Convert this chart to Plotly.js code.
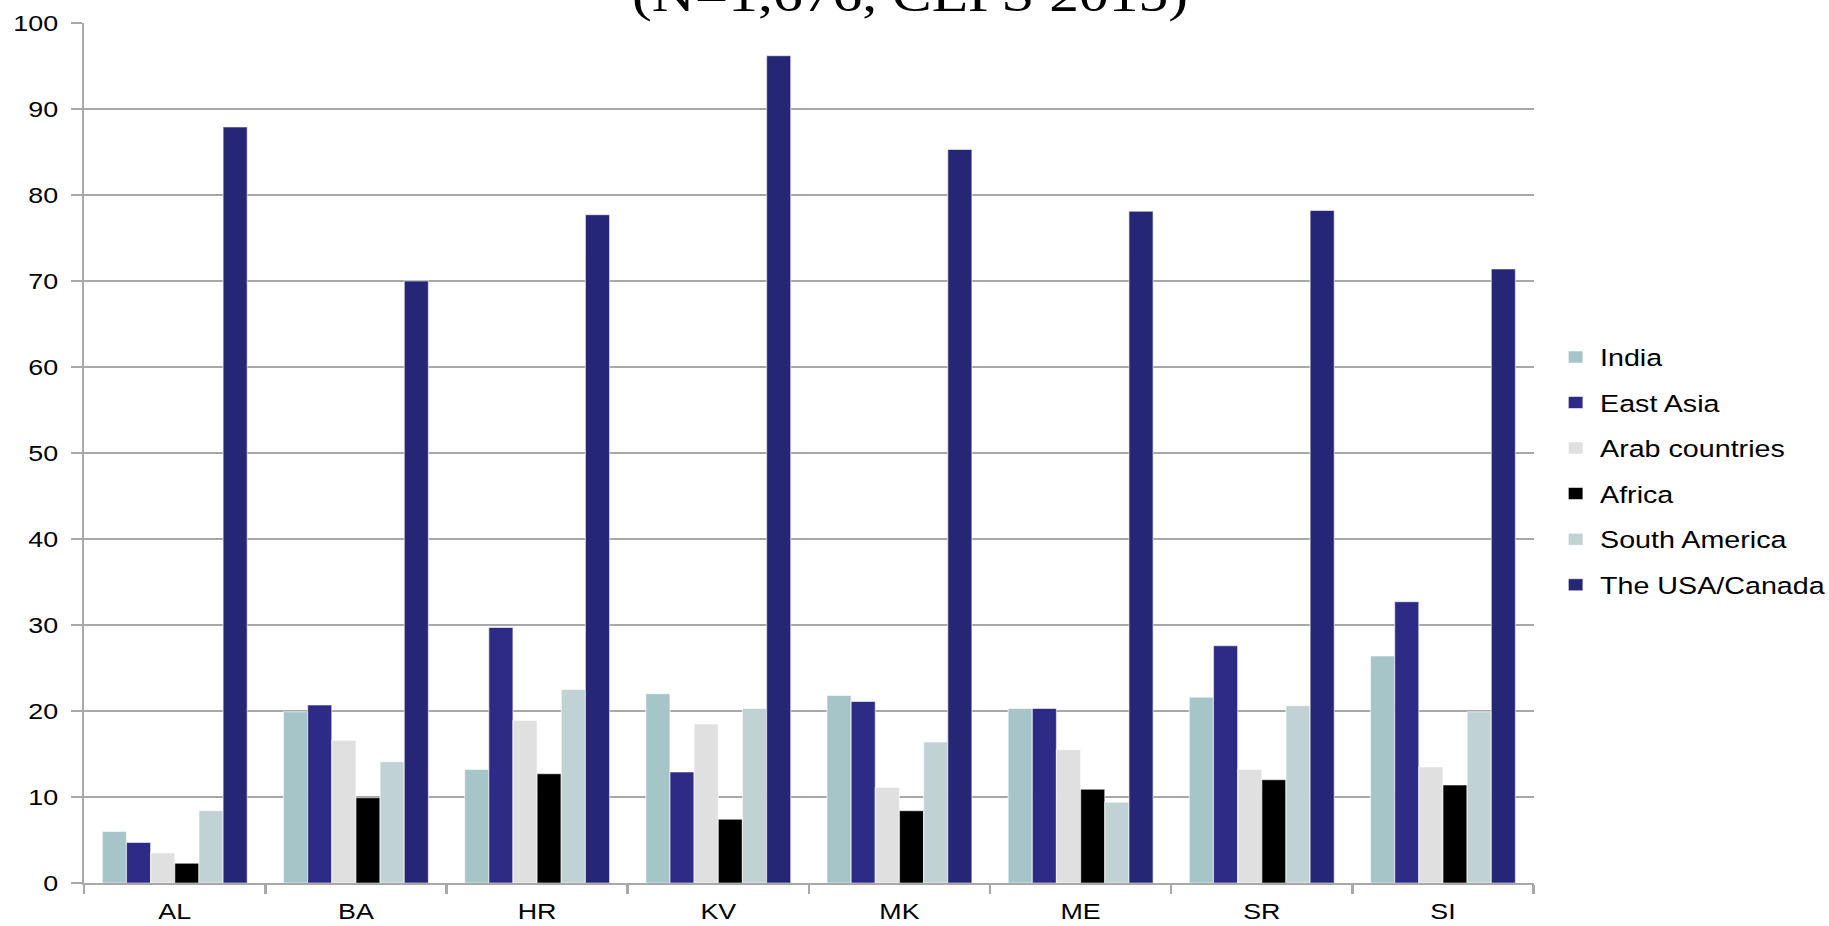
<!DOCTYPE html>
<html>
<head>
<meta charset="utf-8">
<script src="https://cdn.plot.ly/plotly-3.0.1.min.js"></script>
<style>
  html, body { margin: 0; padding: 0; overflow: hidden; background: #ffffff; }
  #wrap { width: 1829px; height: 926px; overflow: hidden; }
  #chart { width: 1520px; height: 926px; transform: scaleX(1.22); transform-origin: 0 0; }
</style>
</head>
<body>
<div id="wrap"><div id="chart"></div></div>
<script>
// Data
const categories = ['AL', 'BA', 'HR', 'KV', 'MK', 'ME', 'SR', 'SI'];
const seriesNames = ['India', 'East Asia', 'Arab countries', 'Africa', 'South America', 'The USA/Canada'];
const india        = [6.0, 19.9, 13.2, 22.0, 21.8, 20.3, 21.6, 26.4];
const eastAsia     = [4.7, 20.7, 29.7, 12.9, 21.1, 20.3, 27.6, 32.7];
const arab         = [3.5, 16.6, 18.9, 18.5, 11.1, 15.5, 13.2, 13.5];
const africa       = [2.3, 9.9, 12.7, 7.4, 8.4, 10.9, 12.0, 11.4];
const southAmerica = [8.4, 14.1, 22.5, 20.3, 16.4, 9.4, 20.6, 19.9];
const usaCanada    = [87.9, 70.0, 77.7, 96.2, 85.3, 78.1, 78.2, 71.4];
const yTicks = [0, 10, 20, 30, 40, 50, 60, 70, 80, 90, 100];
const titleText = '(N=1,676, CEPS 2015)';

const seriesValues = [india, eastAsia, arab, africa, southAmerica, usaCanada];
const colors = ['#A6C5C8', '#2D2B86', '#E0E0E0', '#000000', '#C1D2D5', '#262677'];

const traces = seriesValues.map((vals, i) => ({
  type: 'bar',
  name: seriesNames[i],
  x: categories,
  y: vals,
  legendgroup: 'g' + i,
  marker: { color: colors[i], line: { color: 'rgba(255,255,255,0.55)', width: 1 } },
  hoverinfo: 'x+y+name'
}));

const W = 1520, H = 926;
const L = 69, R = 263, T = 23, B = 43;

const layout = {
  width: W, height: H,
  margin: { l: L, r: R, t: T, b: B, pad: 0, autoexpand: false },
  paper_bgcolor: '#ffffff',
  plot_bgcolor: '#ffffff',
  barmode: 'group',
  bargap: 0.2,
  bargroupgap: 0,
  font: { family: '"Liberation Sans", Arial, sans-serif', size: 22, color: '#000000' },
  xaxis: {
    type: 'category',
    categoryorder: 'array',
    categoryarray: categories,
    automargin: false,
    showline: true, linecolor: '#A8A8A8', linewidth: 2,
    ticks: 'outside', tickson: 'boundaries', ticklen: 9, tickwidth: 2, tickcolor: '#A8A8A8',
    ticklabelstandoff: 8,
    showgrid: false, zeroline: false,
    tickfont: { size: 22, color: '#000000' }
  },
  yaxis: {
    range: [0, 100],
    automargin: false,
    tickmode: 'array', tickvals: yTicks, ticktext: yTicks.map(String),
    showline: true, linecolor: '#A8A8A8', linewidth: 2,
    ticks: 'outside', ticklen: 9, tickwidth: 2, tickcolor: '#A8A8A8',
    ticklabelstandoff: 6,
    showgrid: true, gridcolor: '#A8A8A8', gridwidth: 2,
    zeroline: false,
    tickfont: { size: 22, color: '#000000' }
  },
  showlegend: true,
  legend: {
    x: 1.0122, xanchor: 'left',
    y: 0.637, yanchor: 'top',
    traceorder: 'grouped',
    tracegroupgap: 12,
    font: { size: 23.5, color: '#000000' },
    bgcolor: 'rgba(0,0,0,0)', borderwidth: 0
  },
  annotations: [{
    text: titleText,
    xref: 'paper', yref: 'paper',
    x: 0.5698, y: 0.999,
    xanchor: 'center', yanchor: 'bottom',
    showarrow: false,
    font: { family: '"Liberation Serif", "Times New Roman", serif', size: 48.8, color: '#000000' }
  }]
};

Plotly.newPlot('chart', traces, layout, { displayModeBar: false, staticPlot: true });
</script>
</body>
</html>
